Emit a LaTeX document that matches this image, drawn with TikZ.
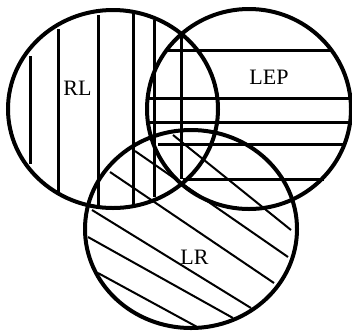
\documentclass[tikz,border=0pt]{standalone}
\usepackage{fontspec}
\setmainfont{Liberation Serif}
\begin{document}
\begin{tikzpicture}[x=1pt,y=-1pt,
  ring/.style={line width=4pt},
  hatchv/.style={line width=3pt},
  hatchh/.style={line width=3pt},
  hatchd/.style={line width=2pt},
  lbl/.style={inner sep=0pt,font=\fontsize{22}{24}\selectfont}]
\useasboundingbox (0,0) rectangle (352,330);
% circles
\draw[ring] (113,109) ellipse [x radius=105pt, y radius=99pt];
\draw[ring] (249,109) ellipse [x radius=102pt, y radius=100pt];
\draw[ring] (191,229) ellipse [x radius=106pt, y radius=99pt];
% vertical hatching (RL)
\coordinate (v1a) at (30.5,56);  \coordinate (v1b) at (30.5,164);
\coordinate (v2a) at (58.5,29);  \coordinate (v2b) at (58.5,192);
\coordinate (v3a) at (98.5,15);  \coordinate (v3b) at (98.5,206);
\coordinate (v4a) at (133,12);   \coordinate (v4b) at (133,205);
\coordinate (v5a) at (154.5,20); \coordinate (v5b) at (154.5,197);
\coordinate (v6a) at (181,33);   \coordinate (v6b) at (181,179);
\foreach \i in {1,...,6} \draw[hatchv] (v\i a) -- (v\i b);
% horizontal hatching (LEP)
\coordinate (h1a) at (168,50.5); \coordinate (h1b) at (332,50.5);
\coordinate (h2a) at (148,98.5); \coordinate (h2b) at (352,98.5);
\coordinate (h3a) at (148,122);  \coordinate (h3b) at (352,122);
\coordinate (h4a) at (158,144);  \coordinate (h4b) at (344,144);
\coordinate (h5a) at (183,179);  \coordinate (h5b) at (324,179);
\foreach \i in {1,...,5} \draw[hatchh] (h\i a) -- (h\i b);
% diagonal hatching (LR)
\coordinate (d1a) at (173,135); \coordinate (d1b) at (291,230);
\coordinate (d2a) at (135,151); \coordinate (d2b) at (288,257);
\coordinate (d3a) at (110,172); \coordinate (d3b) at (274,283);
\coordinate (d4a) at (92,210);  \coordinate (d4b) at (251,308);
\coordinate (d5a) at (88,237);  \coordinate (d5b) at (233,318);
\coordinate (d6a) at (98,273);  \coordinate (d6b) at (199,328);
\foreach \i in {1,...,6} \draw[hatchd] (d\i a) -- (d\i b);
% labels
\node[lbl] (rl) at (77.5,88) {RL};
\node[lbl] (lep) at (269,77.5) {LEP};
\node[lbl] (lr) at (194.5,257.5) {LR};
\end{tikzpicture}
\end{document}
